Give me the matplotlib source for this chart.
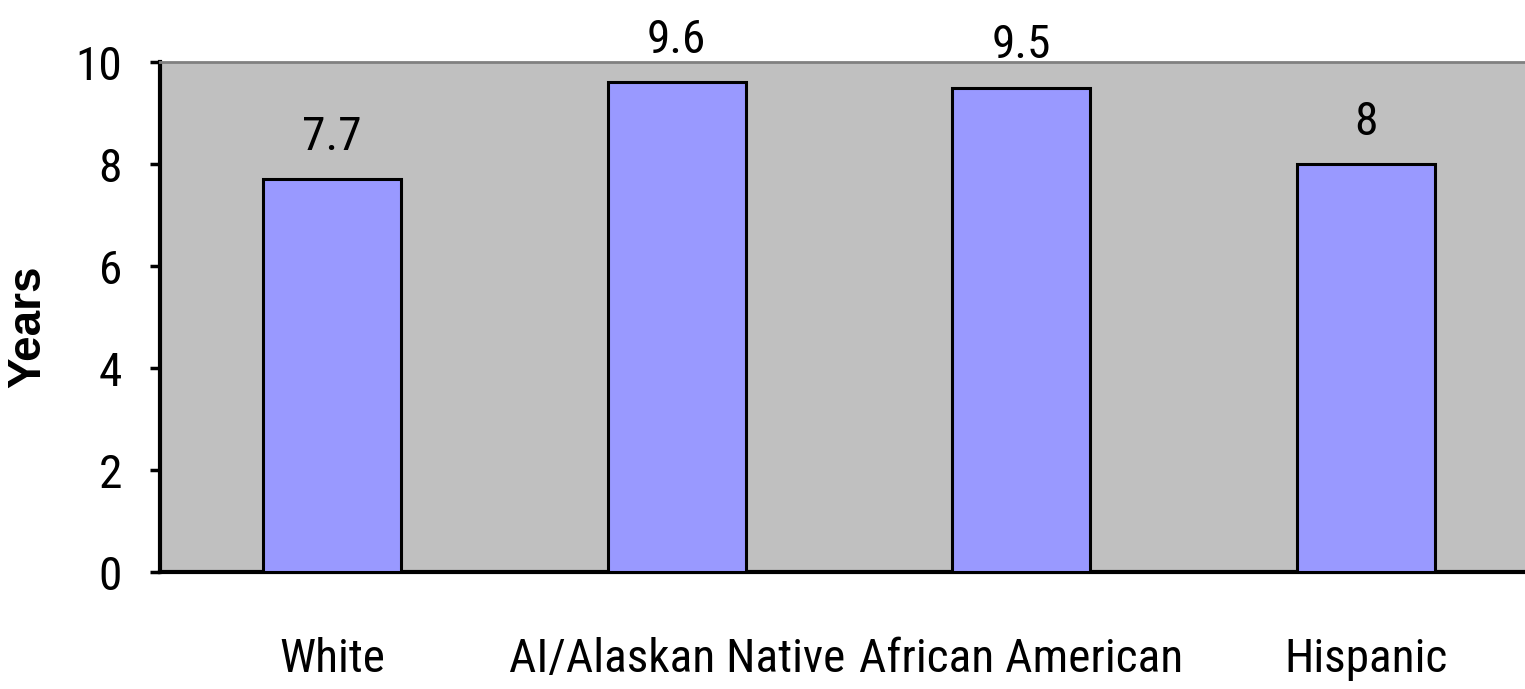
import matplotlib
matplotlib.use("Agg")
import matplotlib.pyplot as plt
from matplotlib import font_manager
from matplotlib.font_manager import FontProperties
from matplotlib.textpath import TextPath

categories = ["White", "AI/Alaskan Native", "African American", "Hispanic"]
values = [7.7, 9.6, 9.5, 8]
value_labels = ["7.7", "9.6", "9.5", "8"]
y_ticks = [0, 2, 4, 6, 8, 10]

# pick a narrow sans-serif face for the labels
names = {f.name for f in font_manager.fontManager.ttflist}
preferred = ["Liberation Sans Narrow", "Arial Narrow", "Nimbus Sans Narrow",
             "Roboto Condensed", "PT Sans Narrow", "Archivo Narrow", "Liberation Sans"]
narrow = next(n for n in preferred if n in names or n == "Liberation Sans")
family = [narrow, "DejaVu Sans"]
plt.rcParams["font.family"] = family

# size the text so the long category label spans roughly 335 px
base = 37
tp = TextPath((0, 0), "AI/Alaskan Native", size=base / 72 * 100, prop=FontProperties(family=family))
w = tp.get_extents().width
fs = base * (334 / w) if w > 0 else base
fs = max(30, min(40, fs))

fig = plt.figure(figsize=(15.25, 6.89), dpi=100)
left, bottom, top = 160 / 1525, 1 - 572 / 689, 1 - 62 / 689
width = (4 * 344.5) / 1525
ax = fig.add_axes([left, bottom, width, top - bottom])
ax.set_facecolor("#C0C0C0")

x = range(len(categories))
ax.bar(x, values, width=0.4, color="#9999FF", edgecolor="black", linewidth=2.2, zorder=3)

for xi, v, lab in zip(x, values, value_labels):
    ax.annotate(lab, (xi, v), xytext=(0, 21), textcoords="offset points",
                ha="center", va="baseline", fontsize=fs, color="black")

ax.set_xlim(-0.5, 3.5)
ax.set_ylim(0, 10)
ax.set_yticks(y_ticks)
ax.set_yticklabels([str(t) for t in y_ticks], fontsize=fs)
ax.set_xticks(list(x))
ax.set_xticklabels(categories, fontsize=fs)
ax.tick_params(axis="x", length=0, pad=47)
ax.tick_params(axis="y", length=7.2, width=2.5, direction="out", pad=20)

ax.spines["left"].set_linewidth(3)
ax.spines["bottom"].set_linewidth(3)
ax.spines["top"].set_color("#808080")
ax.spines["top"].set_linewidth(2)
ax.spines["right"].set_visible(False)

fig.text(28 / 1525, 1 - 327 / 689, "Years", rotation=90, ha="center", va="center",
         fontsize=33, fontweight="bold", family=["Liberation Sans", "DejaVu Sans"])

fig.savefig("out.png", dpi=100)
